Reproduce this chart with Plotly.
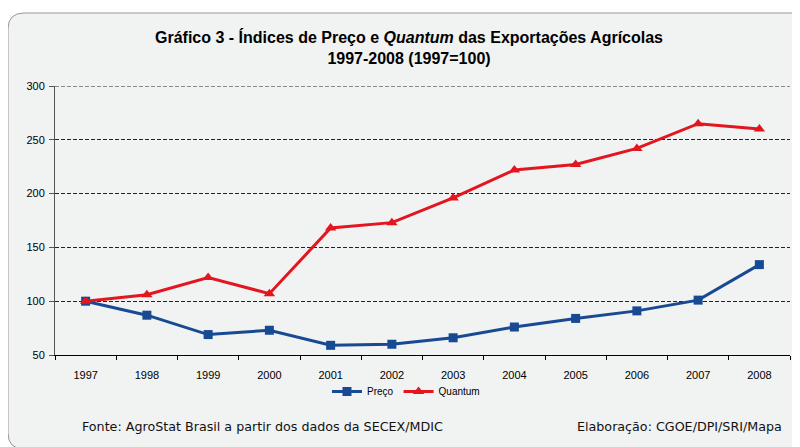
import plotly.graph_objects as go

years = ["1997", "1998", "1999", "2000", "2001", "2002", "2003", "2004", "2005", "2006", "2007", "2008"]
preco = [100, 87, 69, 73, 59, 60, 66, 76, 84, 91, 101, 134]
quantum = [100, 106, 122, 107, 168, 173, 196, 222, 227, 242, 265, 260]

# page body adds an 8px offset; coordinates below are screen pixels
OFF = 8
W, H = 800, 447
SL, ST, SR, SB = 55, 86, 790, 355  # plot area in screen px
L, T = SL - OFF, ST - OFF
pw, ph = SR - SL, SB - ST
R = W - L - pw
B = H - T - ph

def px(x):
    return (x - SL) / pw

def py(y):
    return (SB - y) / ph

fig = go.Figure()
fig.add_trace(go.Scatter(x=years, y=preco, name="Preço", mode="lines+markers",
                         line=dict(color="#174a93", width=3),
                         marker=dict(symbol="square", size=9, color="#174a93")))
fig.add_trace(go.Scatter(x=years, y=quantum, name="Quantum", mode="lines+markers",
                         line=dict(color="#e3161f", width=3),
                         marker=dict(symbol="triangle-up", size=10, color="#e3161f")))

# rounded frame
x0, y0, x1, y1, r = 8, 13, 830, 449, 16
path = (f"M {px(x0)},{py(y0 + r)} Q {px(x0)},{py(y0)} {px(x0 + r)},{py(y0)} "
        f"L {px(x1)},{py(y0)} L {px(x1)},{py(y1)} L {px(x0 + r)},{py(y1)} "
        f"Q {px(x0)},{py(y1)} {px(x0)},{py(y1 - r)} Z")
fig.add_shape(type="path", path=path, xref="paper", yref="paper",
              fillcolor="#f1f2f2", line=dict(color="#999", width=1), layer="below")
# top gridline at 300
fig.add_shape(type="line", xref="paper", yref="y", x0=0, x1=1, y0=300, y1=300,
              line=dict(color="#222", width=1, dash="4px,2px"), layer="below")

fig.add_annotation(text="<b>Gráfico 3 - Índices de Preço e <i>Quantum</i> das Exportações Agrícolas<br>1997-2008 (1997=100)</b>",
                   xref="paper", yref="paper", x=px(409), y=py(47), showarrow=False,
                   font=dict(family="Liberation Sans, Arial", size=16, color="#000"),
                   xanchor="center", yanchor="middle")
fig.add_annotation(text="Fonte: AgroStat Brasil a partir dos dados da SECEX/MDIC",
                   xref="paper", yref="paper", x=px(80), y=py(426), showarrow=False,
                   font=dict(family="DejaVu Sans", size=12.7, color="#111"),
                   xanchor="left", yanchor="middle")
fig.add_annotation(text="Elaboração: CGOE/DPI/SRI/Mapa",
                   xref="paper", yref="paper", x=px(784), y=py(426), showarrow=False,
                   font=dict(family="DejaVu Sans", size=12.7, color="#111"),
                   xanchor="right", yanchor="middle")

fig.update_layout(
    width=W, height=H,
    margin=dict(l=L, r=R, t=T, b=B),
    paper_bgcolor="white", plot_bgcolor="rgba(0,0,0,0)",
    font=dict(family="Liberation Sans, Arial", size=11, color="#000"),
    showlegend=True,
    legend=dict(orientation="h", x=px(406), xanchor="center", y=py(377), yanchor="top",
                font=dict(size=10), bgcolor="rgba(0,0,0,0)", itemwidth=30),
    xaxis=dict(type="category", range=[-0.5, 11.5], showline=True, linecolor="#000", linewidth=1,
               ticks="outside", tickson="boundaries", ticklen=4, tickcolor="#000",
               ticklabelstandoff=10,
               showgrid=False, zeroline=False, fixedrange=True),
    yaxis=dict(range=[50, 300], dtick=50, showline=True, linecolor="#555", linewidth=1,
               ticks="outside", ticklen=5, tickcolor="#555", ticklabelstandoff=2,
               showgrid=True, gridcolor="#222", griddash="4px,2px", gridwidth=1,
               zeroline=False, fixedrange=True),
)

fig.write_html("out.html")
